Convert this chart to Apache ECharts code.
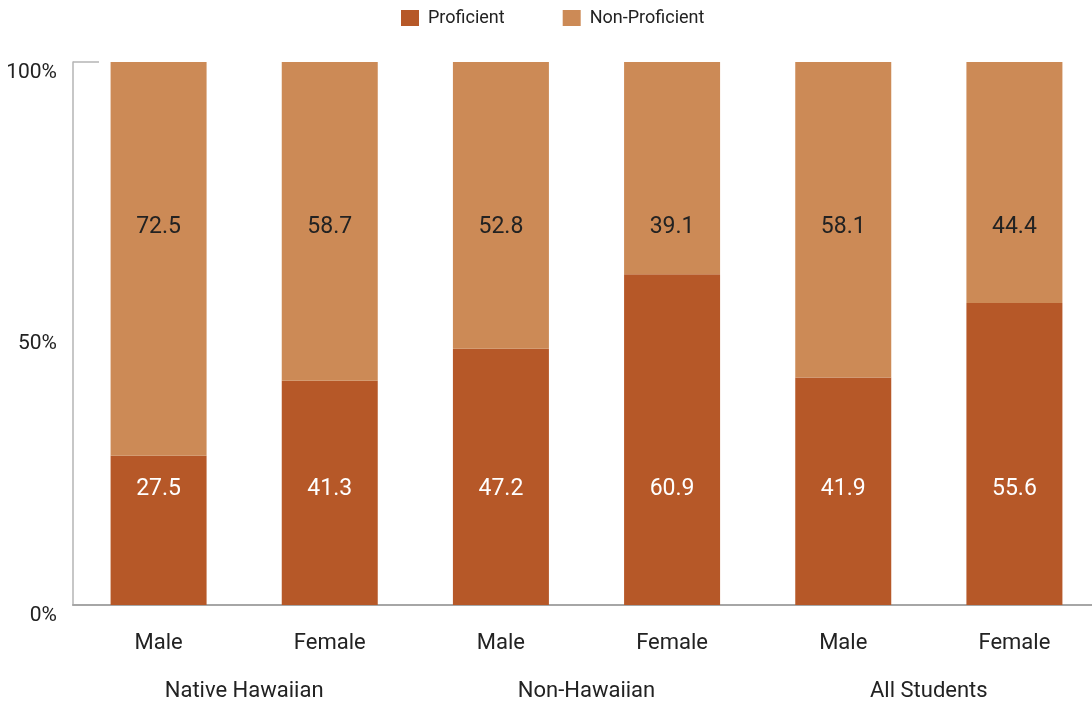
<!DOCTYPE html>
<html>
<head>
<meta charset="utf-8">
<style>
  html, body { margin: 0; padding: 0; background: #fff; overflow: hidden; }
  /* the plot area runs a few pixels past the right edge of the window */
  #chart { width: 1100px; height: 703px; }
</style>
<script src="https://cdn.jsdelivr.net/npm/echarts@6/dist/echarts.min.js"></script>
</head>
<body>
<div id="chart"></div>
<script>
// Proficiency by gender within each student group (percent)
const genders = ['Male', 'Female', 'Male', 'Female', 'Male', 'Female'];
const groups = ['Native Hawaiian', 'Non-Hawaiian', 'All Students'];
const proficient = [27.5, 41.3, 47.2, 60.9, 41.9, 55.6];
const nonProficient = [72.5, 58.7, 52.8, 39.1, 58.1, 44.4];
const yTicks = [0, 50, 100];

const FONT = 'Roboto, "Noto Sans", sans-serif';
const DARK = '#B65828';
const LIGHT = '#CC8A56';
const TEXT = '#222222';

const chart = echarts.init(document.getElementById('chart'));

chart.setOption({
  animation: false,
  textStyle: { fontFamily: FONT },
  legend: {
    left: 396,
    top: 4,
    itemWidth: 18,
    itemHeight: 16,
    itemGap: 58,
    icon: 'rect',
    textStyle: { fontSize: 18, color: TEXT, fontFamily: FONT, padding: [0, 0, 0, 4] },
    data: ['Proficient', 'Non-Proficient']
  },
  grid: { left: 73, right: 0, top: 62, bottom: 98, containLabel: false },
  xAxis: [
    {
      type: 'category',
      data: genders,
      axisLine: { show: true, lineStyle: { color: '#a6a6a6', width: 2 } },
      axisTick: { show: false },
      axisLabel: { fontSize: 22, color: TEXT, margin: 27, fontFamily: FONT }
    },
    {
      type: 'category',
      data: groups,
      position: 'bottom',
      axisLine: { show: false },
      axisTick: { show: false },
      axisLabel: { fontSize: 22, color: TEXT, margin: 75, fontFamily: FONT }
    }
  ],
  yAxis: {
    type: 'value',
    min: yTicks[0],
    max: yTicks[yTicks.length - 1],
    interval: yTicks[1] - yTicks[0],
    axisLine: { show: true, lineStyle: { color: '#b5b5b5', width: 1.5 } },
    axisTick: { show: true, inside: true, length: 26, customValues: [100], lineStyle: { color: '#b5b5b5', width: 1.5 } },
    splitLine: { show: false },
    axisLabel: {
      formatter: '{value}%',
      fontSize: 21,
      color: TEXT,
      margin: 16,
      verticalAlign: 'top',
      fontFamily: FONT
    }
  },
  series: [
    {
      name: 'Proficient',
      type: 'bar',
      stack: 'total',
      barWidth: 96,
      data: proficient,
      itemStyle: { color: DARK },
      label: {
        show: true,
        position: 'insideBottom',
        distance: 104,
        fontSize: 23,
        color: '#ffffff',
        fontFamily: FONT,
        formatter: p => p.value.toFixed(1)
      }
    },
    {
      name: 'Non-Proficient',
      type: 'bar',
      stack: 'total',
      barWidth: 96,
      data: nonProficient,
      itemStyle: { color: LIGHT },
      label: {
        show: true,
        position: 'insideTop',
        distance: 154,
        fontSize: 23,
        color: TEXT,
        fontFamily: FONT,
        formatter: p => p.value.toFixed(1)
      }
    }
  ]
});
</script>
</body>
</html>
